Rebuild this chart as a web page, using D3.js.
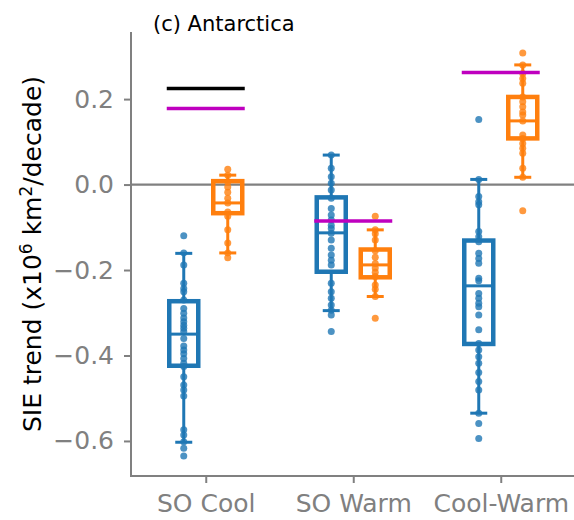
<!DOCTYPE html>
<html>
<head>
<meta charset="utf-8">
<script src="https://cdn.jsdelivr.net/npm/d3@7"></script>
<style>
  html, body { margin: 0; padding: 0; background: #fff; }
  svg { display: block; font-family: "DejaVu Sans", sans-serif; }
</style>
</head>
<body>
<svg id="chart" width="574" height="520"></svg>
<script>
// Sea-ice extent trends for three Southern Ocean groupings
const categories = ["SO Cool", "SO Warm", "Cool-Warm"];

// Individual model trends (blue) per category
const bluePoints = [
  [-0.120, -0.160, -0.188, -0.231, -0.243, -0.251, -0.270, -0.290, -0.301, -0.312,
   -0.321, -0.329, -0.336, -0.344, -0.360, -0.378, -0.387, -0.396, -0.407, -0.418,
   -0.426, -0.450, -0.469, -0.481, -0.495, -0.574, -0.586, -0.602, -0.617, -0.635],
  [0.069, 0.038, 0.018, 0.003, -0.013, -0.032, -0.056, -0.071, -0.083, -0.095,
   -0.103, -0.114, -0.130, -0.149, -0.165, -0.177, -0.188, -0.231, -0.251, -0.266,
   -0.282, -0.294, -0.305, -0.344],
  [0.152, 0.012, -0.028, -0.040, -0.047, -0.110, -0.122, -0.134, -0.161, -0.173,
   -0.184, -0.219, -0.225, -0.255, -0.266, -0.278, -0.286, -0.305, -0.340, -0.372,
   -0.387, -0.403, -0.418, -0.440, -0.461, -0.481, -0.535, -0.559, -0.594]
];

// Second ensemble trends (orange) per category
const orangePoints = [
  [0.036, 0.022, 0.006, -0.006, -0.018, -0.032, -0.043, -0.064, -0.074, -0.106,
   -0.137, -0.160, -0.171],
  [-0.074, -0.106, -0.115, -0.130, -0.155, -0.170, -0.185, -0.195, -0.205, -0.215,
   -0.235, -0.245, -0.262, -0.313],
  [0.308, 0.280, 0.260, 0.248, 0.237, 0.205, 0.194, 0.182, 0.170, 0.163, 0.149,
   0.116, 0.108, 0.096, 0.085, 0.073, 0.038, 0.017, -0.061]
];

// Box summaries: [lower whisker, Q1, median, Q3, upper whisker]
const blueBoxes = [
  [-0.603, -0.424, -0.350, -0.273, -0.161],
  [-0.295, -0.204, -0.113, -0.030, 0.069],
  [-0.535, -0.373, -0.237, -0.131, 0.012]
];
const orangeBoxes = [
  [-0.160, -0.067, -0.043, 0.008, 0.022],
  [-0.262, -0.217, -0.188, -0.152, -0.106],
  [0.017, 0.108, 0.149, 0.205, 0.280]
];

// Observed trends (black) and reference trends (magenta); null where absent
const observedTrend = [0.225, null, null];
const referenceTrend = [0.178, -0.085, 0.262];

const yTicks = [0.2, 0.0, -0.2, -0.4, -0.6];

const blue = "#1f77b4", orange = "#ff7f0e", magenta = "#bf00bf", grey = "#808080";

const svg = d3.select("#chart");

const x = d3.scaleLinear().domain([-0.5, 2.5]).range([132, 574.5]);
const y = d3.scaleLinear().domain([-0.682, 0.357]).range([476, 32]);

const fmt = v => (v < 0 ? "\u2212" : "") + Math.abs(v).toFixed(1);

// Axes
const yAxis = d3.axisLeft(y).tickValues(yTicks).tickFormat(fmt).tickSize(7).tickPadding(10);
const gy = svg.append("g").attr("transform", `translate(${x(-0.5) - 1},0)`).call(yAxis);
gy.select(".domain").attr("stroke", grey).attr("stroke-width", 2)
  .attr("d", `M0,${y.range()[1]}V${y.range()[0]}`);
gy.selectAll(".tick line").attr("stroke", grey).attr("stroke-width", 2);
gy.selectAll(".tick text").attr("fill", grey).style("font-size", "25px")
  .style("font-family", "DejaVu Sans");

const xAxis = d3.axisBottom(x).tickValues([0, 1, 2]).tickFormat(i => categories[i])
  .tickSize(7).tickPadding(11);
const gx = svg.append("g").attr("transform", `translate(0,${y.range()[0]})`).call(xAxis);
gx.select(".domain").attr("stroke", grey).attr("stroke-width", 2)
  .attr("d", `M${x(-0.5) - 2},0H574`);
gx.selectAll(".tick line").attr("stroke", grey).attr("stroke-width", 2);
gx.selectAll(".tick text").attr("fill", grey).style("font-size", "25px")
  .style("font-family", "DejaVu Sans");

// Zero line
svg.append("line")
  .attr("x1", x(-0.5)).attr("x2", 574)
  .attr("y1", y(0)).attr("y2", y(0))
  .attr("stroke", grey).attr("stroke-width", 2.2);

const offset = 22;      // horizontal shift of each series from the category centre
const boxW = 29;
const capW = 17;

function drawBoxes(boxes, points, color, dx) {
  const g = svg.append("g");
  boxes.forEach((b, i) => {
    const cx = x(i) + dx;
    const [lo, q1, med, q3, hi] = b;
    // whiskers
    g.append("line").attr("x1", cx).attr("x2", cx).attr("y1", y(q3)).attr("y2", y(hi))
      .attr("stroke", color).attr("stroke-width", 3);
    g.append("line").attr("x1", cx).attr("x2", cx).attr("y1", y(q1)).attr("y2", y(lo))
      .attr("stroke", color).attr("stroke-width", 3);
    // caps
    [lo, hi].forEach(v => g.append("line")
      .attr("x1", cx - capW / 2).attr("x2", cx + capW / 2)
      .attr("y1", y(v)).attr("y2", y(v))
      .attr("stroke", color).attr("stroke-width", 3));
    // box
    g.append("rect")
      .attr("x", cx - boxW / 2).attr("width", boxW)
      .attr("y", y(q3)).attr("height", y(q1) - y(q3))
      .attr("fill", "none").attr("stroke", color).attr("stroke-width", 4.5);
    // median
    g.append("line").attr("x1", cx - boxW / 2).attr("x2", cx + boxW / 2)
      .attr("y1", y(med)).attr("y2", y(med))
      .attr("stroke", color).attr("stroke-width", 3);
    // members
    g.selectAll(null).data(points[i]).join("circle")
      .attr("cx", cx).attr("cy", d => y(d)).attr("r", 3.5)
      .attr("fill", color).attr("fill-opacity", 0.8);
  });
}

drawBoxes(blueBoxes, bluePoints, blue, -offset);
drawBoxes(orangeBoxes, orangePoints, orange, offset);

// Reference trend lines spanning each category
const halfSpan = 39;
function drawTrend(values, color) {
  svg.append("g").selectAll("line")
    .data(values.map((v, i) => ({ v, i })).filter(d => d.v !== null))
    .join("line")
    .attr("x1", d => x(d.i) - halfSpan).attr("x2", d => x(d.i) + halfSpan)
    .attr("y1", d => y(d.v)).attr("y2", d => y(d.v))
    .attr("stroke", color).attr("stroke-width", 3.5);
}
drawTrend(observedTrend, "#000");
drawTrend(referenceTrend, magenta);

// Title
svg.append("text").attr("x", 153).attr("y", 31)
  .style("font-size", "21px").attr("fill", "#000")
  .text("(c) Antarctica");

// Y-axis label
const yl = svg.append("text")
  .attr("transform", `translate(41,${(y.range()[0] + y.range()[1]) / 2}) rotate(-90)`)
  .attr("text-anchor", "middle")
  .style("font-size", "25px").attr("fill", "#000");
yl.append("tspan").text("SIE trend (x10");
yl.append("tspan").attr("dy", -9).style("font-size", "17px").text("6");
yl.append("tspan").attr("dy", 9).text(" km");
yl.append("tspan").attr("dy", -9).style("font-size", "17px").text("2");
yl.append("tspan").attr("dy", 9).text("/decade)");
</script>
</body>
</html>
